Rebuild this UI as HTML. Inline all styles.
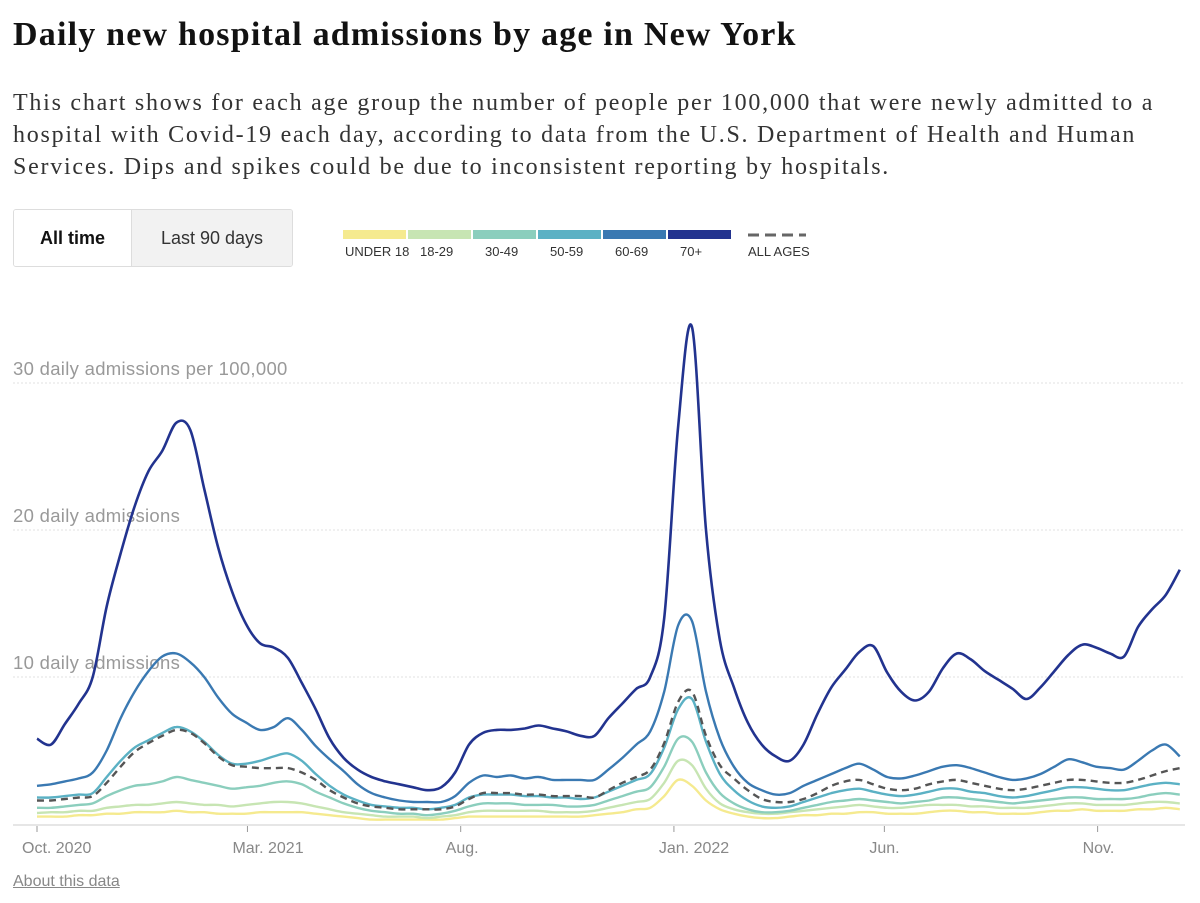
<!DOCTYPE html>
<html><head><meta charset="utf-8"><style>
body{margin:0;width:1200px;height:903px;background:#fff;overflow:hidden;position:relative;font-family:"Liberation Sans",sans-serif}
#title{position:absolute;left:13px;top:16px;font:bold 34px "Liberation Serif",serif;color:#121212;letter-spacing:1.2px;margin:0;white-space:nowrap}
#sub{position:absolute;left:13px;top:87px;width:1190px;font:24px/32px "Liberation Serif",serif;color:#333;margin:0;letter-spacing:1.75px;white-space:nowrap}
#btns{position:absolute;left:13px;top:209px;width:278px;height:56px;border:1px solid #ddd;border-radius:3px;display:flex;overflow:hidden}
#btns div{display:flex;align-items:center;justify-content:center;font-size:18px;color:#333}
#b1{width:117px;font-weight:bold;background:#fff;color:#121212!important}
#b2{flex:1;background:#f2f2f2;border-left:1px solid #ddd}
#about{position:absolute;left:13px;top:873px;font:16px "Liberation Sans Narrow","Liberation Sans",sans-serif;color:#888;text-decoration:underline}
svg{position:absolute;left:0;top:0}
</style></head><body>
<h1 id="title">Daily new hospital admissions by age in New York</h1>
<p id="sub">This chart shows for each age group the number of people per 100,000 that were newly admitted to a<br>hospital with Covid-19 each day, according to data from the U.S. Department of Health and Human<br>Services. Dips and spikes could be due to inconsistent reporting by hospitals.</p>
<div id="btns">
<div id="b1">All time</div>
<div id="b2">Last 90 days</div>
</div>
<svg id="chart" width="1200" height="903"></svg>
<a id="about">About this data</a>
<script>
const seriesNames=["UNDER 18","18-29","30-49","50-59","60-69","70+"];
const seriesColors=["#f5ea8f","#c7e5b3","#8bcebd","#5bb1c4","#3a79b2","#22338f"];
const xTickLabels=["Oct. 2020","Mar. 2021","Aug.","Jan. 2022","Jun.","Nov."];
const xTickDays=[0,151,304,457,608,761];
const yTicks=[10,20,30];
const yTickLabels=["10 daily admissions","20 daily admissions","30 daily admissions per 100,000"];
const sampleStepDays=10;
const u18=[0.5,0.5,0.5,0.6,0.6,0.7,0.7,0.8,0.8,0.8,0.9,0.8,0.8,0.7,0.7,0.7,0.8,0.8,0.8,0.8,0.7,0.6,0.5,0.4,0.3,0.3,0.3,0.3,0.3,0.3,0.4,0.5,0.5,0.5,0.5,0.5,0.5,0.5,0.5,0.5,0.6,0.7,0.8,1,1.1,1.9,3,2.6,1.6,1,0.7,0.5,0.4,0.4,0.5,0.6,0.6,0.7,0.7,0.8,0.8,0.7,0.7,0.7,0.8,0.9,0.9,0.8,0.8,0.7,0.7,0.7,0.8,0.9,0.9,1,0.9,0.9,0.9,1,1,1.1,1];
const a1829=[0.75,0.8,0.8,0.9,0.9,1.1,1.2,1.3,1.3,1.4,1.5,1.4,1.3,1.3,1.2,1.3,1.4,1.5,1.5,1.4,1.2,1,0.8,0.7,0.6,0.5,0.5,0.5,0.4,0.5,0.6,0.8,0.9,0.9,0.9,0.9,0.9,0.8,0.8,0.8,0.9,1.1,1.3,1.5,1.7,2.8,4.3,4,2.4,1.4,1,0.8,0.7,0.7,0.8,0.9,1,1.1,1.2,1.3,1.2,1.1,1.1,1.2,1.3,1.3,1.3,1.2,1.2,1.1,1.1,1.1,1.2,1.3,1.4,1.4,1.3,1.3,1.3,1.4,1.5,1.5,1.4];
const a3049=[1.1,1.1,1.2,1.3,1.4,1.9,2.3,2.6,2.7,2.9,3.2,3,2.8,2.6,2.4,2.5,2.6,2.8,2.9,2.7,2.2,1.8,1.4,1.1,0.9,0.8,0.7,0.7,0.6,0.7,0.9,1.2,1.4,1.4,1.4,1.3,1.3,1.3,1.2,1.2,1.3,1.6,1.9,2.2,2.5,3.9,5.8,5.6,3.5,2.1,1.4,1,0.8,0.8,0.9,1.1,1.3,1.5,1.6,1.7,1.6,1.5,1.4,1.5,1.6,1.8,1.8,1.7,1.6,1.5,1.4,1.5,1.6,1.7,1.8,1.8,1.7,1.7,1.7,1.8,2,2.1,2];
const a5059=[1.8,1.8,1.9,2,2.1,3.2,4.3,5.2,5.7,6.2,6.6,6.3,5.6,4.7,4.1,4.1,4.3,4.6,4.8,4.3,3.4,2.6,2,1.6,1.3,1.2,1.1,1.1,1,1.1,1.3,1.8,2,2,2,1.9,1.9,1.8,1.8,1.7,1.8,2.2,2.6,3,3.4,5.2,7.8,8.5,5.6,3.4,2.3,1.6,1.2,1.1,1.2,1.5,1.8,2.1,2.3,2.4,2.2,2,1.9,2,2.2,2.4,2.4,2.2,2.1,1.9,1.8,1.9,2.1,2.3,2.5,2.5,2.4,2.3,2.3,2.5,2.7,2.8,2.7];
const a6069=[2.6,2.7,2.9,3.1,3.5,5,7.2,9,10.4,11.4,11.6,11,10,8.6,7.5,6.9,6.4,6.6,7.2,6.4,5.3,4.4,3.6,2.7,2.1,1.8,1.6,1.5,1.5,1.5,1.9,2.8,3.3,3.2,3.3,3.1,3.2,3,3,3,3,3.7,4.5,5.4,6.3,9,13.5,13.8,9,5.8,3.9,2.8,2.3,2,2.1,2.6,3,3.4,3.8,4.1,3.7,3.2,3.1,3.3,3.6,3.9,4,3.8,3.5,3.2,3,3.1,3.4,3.9,4.4,4.2,3.9,3.8,3.7,4.3,5,5.4,4.6];
const a70=[5.8,5.4,6.8,8.2,10,14.8,18.4,21.6,24,25.4,27.3,26.8,22.8,18.8,15.8,13.6,12.3,12,11.3,9.6,7.8,5.8,4.5,3.7,3.2,2.9,2.7,2.5,2.3,2.5,3.5,5.4,6.2,6.4,6.4,6.5,6.7,6.5,6.3,6,6,7.2,8.2,9.2,10,14,27,33.8,20,12.5,9.3,6.9,5.4,4.6,4.3,5.4,7.5,9.3,10.5,11.7,12.1,10.3,9,8.4,9,10.6,11.6,11.2,10.4,9.8,9.2,8.5,9.3,10.4,11.5,12.2,12,11.6,11.4,13.4,14.6,15.6,17.3];
const allAges=[1.6,1.6,1.7,1.8,1.9,2.8,3.9,4.9,5.5,6,6.4,6.2,5.5,4.6,4,3.9,3.8,3.8,3.8,3.5,3,2.3,1.8,1.4,1.2,1.1,1,1,1,1,1.2,1.7,2.1,2.1,2.1,2,2,1.9,1.9,1.9,1.8,2.3,2.8,3.2,3.7,5.5,8.3,9,6,4,3.1,2.3,1.7,1.5,1.5,1.7,2.1,2.6,2.9,3,2.7,2.4,2.3,2.4,2.7,2.9,3,2.8,2.6,2.4,2.3,2.4,2.6,2.8,3,3,2.9,2.8,2.8,3,3.3,3.6,3.8];
const seriesData=[u18,a1829,a3049,a5059,a6069,a70];

const NS="http://www.w3.org/2000/svg";
const svg=document.getElementById('chart');
const x0=37,pxPerDay=1.3937,y0=824,pxPerUnit=14.7;
const xScale=d=>x0+d*pxPerDay;
const yScale=v=>y0-v*pxPerUnit;
function mk(tag,attrs,parent){const e=document.createElementNS(NS,tag);for(const k in attrs)e.setAttribute(k,attrs[k]);(parent||svg).appendChild(e);return e;}
function pathFor(arr){
  const p=arr.map((v,i)=>[xScale(i*sampleStepDays),yScale(v)]);
  let d="M"+p[0][0].toFixed(1)+","+p[0][1].toFixed(1);
  for(let i=0;i<p.length-1;i++){
    const a=p[Math.max(0,i-1)],b=p[i],c=p[i+1],e=p[Math.min(p.length-1,i+2)];
    const c1=[b[0]+(c[0]-a[0])/6,b[1]+(c[1]-a[1])/6],c2=[c[0]-(e[0]-b[0])/6,c[1]-(e[1]-b[1])/6];
    d+="C"+c1.map(n=>n.toFixed(1))+" "+c2.map(n=>n.toFixed(1))+" "+c[0].toFixed(1)+","+c[1].toFixed(1);
  }
  return d;
}
yTicks.forEach((t,i)=>{
  const g=mk('line',{x1:13,x2:1185,y1:yScale(t),y2:yScale(t),stroke:'#e2e2e2','stroke-dasharray':'2,2'});
  
  
  const tx=mk('text',{x:13,y:yScale(t)-8,'font-size':18.5,fill:'#999','font-family':'"Liberation Sans",sans-serif','letter-spacing':'0.3'});
  tx.textContent=yTickLabels[i];
  
  
});
const ax=mk('line',{x1:13,x2:1185,y1:825,y2:825,stroke:'#ccc'});


xTickDays.forEach((d,i)=>{
  const tk=mk('line',{x1:xScale(d),x2:xScale(d),y1:826,y2:832,stroke:'#999'});
  
  
  const t=mk('text',{x:xScale(d)-15,y:853,'font-size':16,fill:'#888','font-family':'"Liberation Sans Narrow","Liberation Sans",sans-serif'});
  t.textContent=xTickLabels[i];
  
  
});
seriesData.forEach((arr,i)=>{
  const p=mk('path',{d:pathFor(arr),fill:'none',stroke:seriesColors[i],'stroke-width':i==5?2.6:2.4,'stroke-linejoin':'round'});
  
  
  if(i==3){
    const dp=mk('path',{d:pathFor(allAges),fill:'none',stroke:'#555','stroke-width':2.4,'stroke-dasharray':'7,5'});
    
    
  }
});
seriesNames.forEach((n,i)=>{
  const lx=343+i*65;
  const r=mk('rect',{x:lx,y:230,width:63,height:9,fill:seriesColors[i]});
  
  
  const t=mk('text',{x:i==0?lx+2:lx+12,y:256,'font-size':13,fill:'#333','font-family':'"Liberation Sans Narrow","Liberation Sans",sans-serif'});
  t.textContent=n;
  
  
});
const ld=mk('line',{x1:748,x2:806,y1:235,y2:235,stroke:'#666','stroke-width':3,'stroke-dasharray':'11,6'});


const lt=mk('text',{x:748,y:256,'font-size':13,fill:'#333','font-family':'"Liberation Sans Narrow","Liberation Sans",sans-serif'});
lt.textContent="ALL AGES";


</script>
</body></html>
